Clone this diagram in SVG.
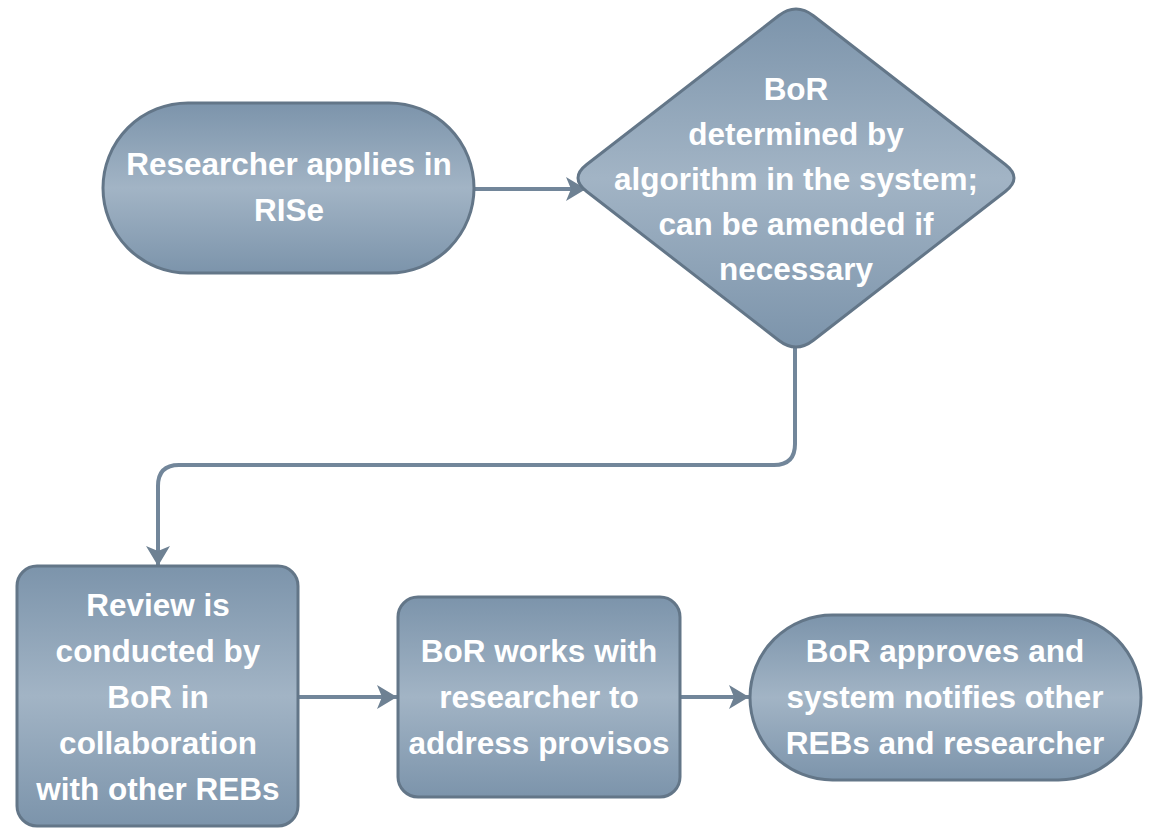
<svg xmlns="http://www.w3.org/2000/svg" width="1150" height="828" viewBox="0 0 1150 828">
  <defs>
    <linearGradient id="fill" x1="0" y1="0" x2="0" y2="1">
      <stop offset="0" stop-color="#7c94ab"/>
      <stop offset="0.5" stop-color="#a2b4c5"/>
      <stop offset="1" stop-color="#7c94ab"/>
    </linearGradient>
    <marker id="arrow" markerUnits="userSpaceOnUse" markerWidth="24" markerHeight="26" refX="20" refY="12" orient="auto">
      <path d="M0,0 L20,12 L0,24 L5,12 Z" fill="#6e8193"/>
    </marker>
  </defs>
  <style>
    .node { fill: url(#fill); stroke: #637688; stroke-width: 3; }
    .edge { fill: none; stroke: #72869a; stroke-width: 4; }
    .label { fill: #ffffff; font-family: "Liberation Sans", Arial, sans-serif; font-weight: bold; font-size: 31.5px; text-anchor: middle; }
  </style>
  <rect width="1150" height="828" fill="#ffffff"/>

  <g id="connectors">
    <path class="edge" d="M474,189 L586,189" marker-end="url(#arrow)"/>
    <path class="edge" d="M795,348 L795,444 Q795,465 774,465 L179,465 Q158,465 158,486 L158,566" marker-end="url(#arrow)"/>
    <path class="edge" d="M299,697 L397,697" marker-end="url(#arrow)"/>
    <path class="edge" d="M680,697 L749,697" marker-end="url(#arrow)"/>
  </g>

  <g id="node-apply">
    <rect class="node" x="103" y="103" width="371" height="170" rx="85" ry="85"/>
    <text class="label" x="289" y="175">Researcher applies in</text>
    <text class="label" x="289" y="221">RISe</text>
  </g>

  <g id="node-bor-decision">
    <path class="node" d="M778.6,15.8 Q796,2.3 813.4,15.8 L1005.3,164.5 Q1022.7,178 1005.3,191.5 L813.4,340.2 Q796,353.7 778.6,340.2 L586.7,191.5 Q569.3,178 586.7,164.5 Z"/>
    <text class="label" x="796" y="100">BoR</text>
    <text class="label" x="796" y="145">determined by</text>
    <text class="label" x="796" y="190">algorithm in the system;</text>
    <text class="label" x="796" y="235">can be amended if</text>
    <text class="label" x="796" y="280">necessary</text>
  </g>

  <g id="node-review">
    <rect class="node" x="17" y="566" width="281" height="260" rx="20" ry="20"/>
    <text class="label" x="158" y="616">Review is</text>
    <text class="label" x="158" y="662">conducted by</text>
    <text class="label" x="158" y="708">BoR in</text>
    <text class="label" x="158" y="754">collaboration</text>
    <text class="label" x="158" y="800">with other REBs</text>
  </g>

  <g id="node-provisos">
    <rect class="node" x="398" y="597" width="282" height="200" rx="20" ry="20"/>
    <text class="label" x="539" y="662">BoR works with</text>
    <text class="label" x="539" y="708">researcher to</text>
    <text class="label" x="539" y="754">address provisos</text>
  </g>

  <g id="node-approve">
    <rect class="node" x="750" y="615" width="391" height="165" rx="82.5" ry="82.5"/>
    <text class="label" x="945" y="662">BoR approves and</text>
    <text class="label" x="945" y="708">system notifies other</text>
    <text class="label" x="945" y="754">REBs and researcher</text>
  </g>
</svg>
